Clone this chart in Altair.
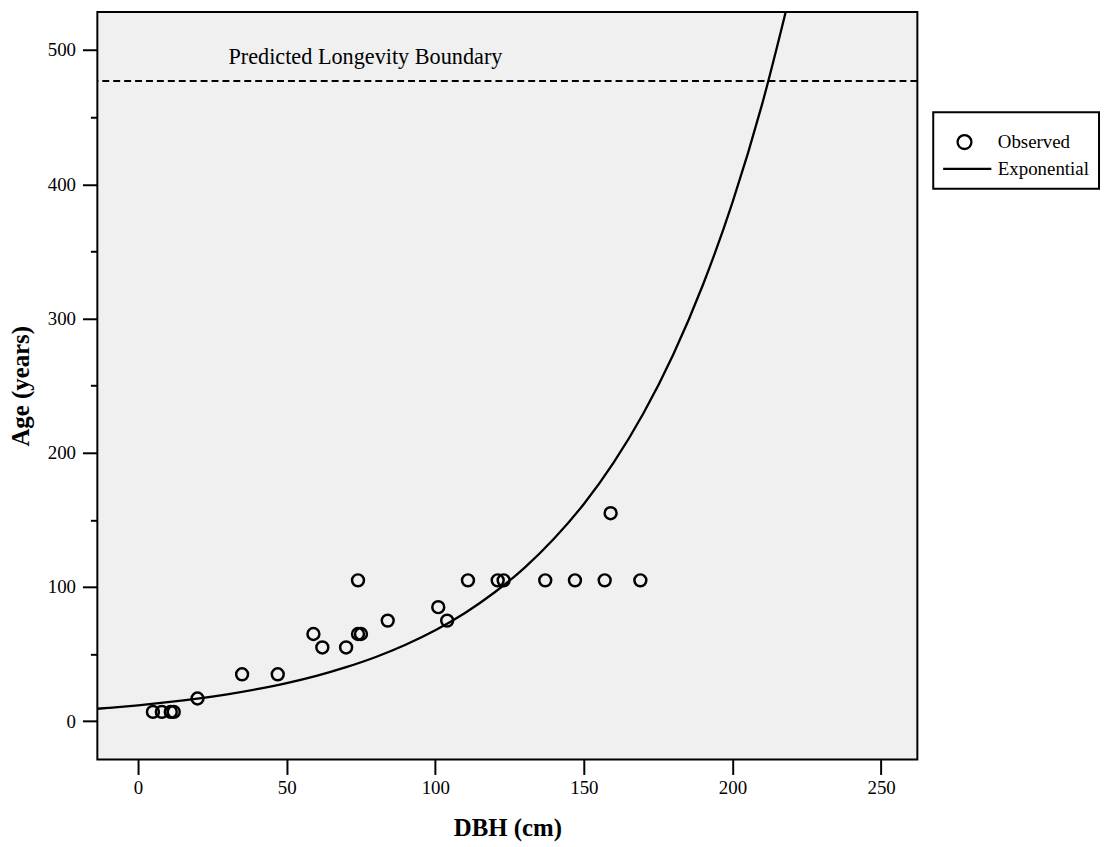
import altair as alt
import pandas as pd

FONT = "Liberation Serif"

# Observed trees
dbh = [5, 8, 11, 12, 20, 35, 47, 59, 62, 70, 74, 75, 74, 84, 101, 104, 111, 121, 123, 137, 147, 157, 169, 159]
age = [7, 7, 7, 7, 17, 35, 35, 65, 55, 55, 65, 65, 105, 75, 85, 75, 105, 105, 105, 105, 105, 105, 105, 155]

# Exponential fit curve
curve_x = [-14, -10, 0, 10, 20, 30, 40, 50, 60, 70, 80, 90, 100, 110, 120, 130, 140, 150, 160, 170, 180, 190, 200, 210, 220]
curve_y = [9.3, 10.0, 11.9, 14.2, 16.9, 20.1, 23.9, 28.4, 33.8, 40.3, 47.9, 57.0, 67.8, 80.7, 96.1, 114.3, 136.1,
           161.9, 192.7, 229.3, 272.9, 324.8, 386.5, 459.9, 547.3]

boundary_age = [477]
annotation_text = ["Predicted Longevity Boundary"]
annotation_x = [30.4]
annotation_y = [489.4]

legend_labels = ["Observed", "Exponential"]
x_ticks = [0, 50, 100, 150, 200, 250]
y_ticks = [0, 50, 100, 150, 200, 250, 300, 350, 400, 450, 500]

obs = pd.DataFrame({"DBH": dbh, "Age": age, "Series": ["Observed"] * len(dbh)})
fit = pd.DataFrame({"DBH": curve_x, "Age": curve_y})
rule_df = pd.DataFrame({"Age": boundary_age})
ann_df = pd.DataFrame({"DBH": annotation_x, "Age": annotation_y, "label": annotation_text})

xscale = alt.Scale(domain=[-13.7, 262.2], nice=False, zero=False)
yscale = alt.Scale(domain=[-28.5, 528.3], nice=False, zero=False)

xaxis = alt.Axis(
    title="DBH (cm)", values=x_ticks, domain=False, grid=False,
    tickSize=15, tickWidth=2, tickColor="black",
    labelFont=FONT, labelFontSize=19, labelColor="black", labelPadding=4,
    labelOverlap=False, labelFlush=False,
    titleFont=FONT, titleFontSize=25, titleFontWeight="bold", titleColor="black", titlePadding=18,
)
yaxis = alt.Axis(
    title="Age (years)", values=y_ticks, domain=False, grid=False,
    labelExpr="datum.value % 100 === 0 ? datum.label : ''",
    tickSize={"condition": {"test": "datum.value % 100 === 0", "value": 15}, "value": 7},
    tickWidth=2, tickColor="black",
    labelFont=FONT, labelFontSize=19, labelColor="black", labelPadding=7,
    labelOverlap=False, labelFlush=False,
    titleFont=FONT, titleFontSize=25, titleFontWeight="bold", titleColor="black", titlePadding=14,
)

X = alt.X("DBH:Q", scale=xscale, axis=xaxis)
Y = alt.Y("Age:Q", scale=yscale, axis=yaxis)

rule = alt.Chart(rule_df).mark_rule(color="black", strokeWidth=2, strokeDash=[7, 4]).encode(y=Y)

line = alt.Chart(fit).mark_line(color="black", strokeWidth=2.3, interpolate="monotone", clip=True).encode(x=X, y=Y)

points = alt.Chart(obs).mark_point(filled=False, color="black", strokeWidth=2.5, size=144, opacity=1).encode(
    x=X, y=Y,
    shape=alt.Shape(
        "Series:N",
        scale=alt.Scale(domain=legend_labels, range=["circle", "M-3.86,0H3.86"]),
        legend=alt.Legend(
            title=" ", titleFontSize=10, titlePadding=0,
            orient="none", legendX=842, legendY=101,
            strokeColor="black", padding=10, clipHeight=20, rowPadding=7,
            symbolSize=196, symbolStrokeWidth=2.3, symbolStrokeColor="black",
            symbolFillColor="transparent", symbolOffset=12, labelOffset=24,
            labelFont=FONT, labelFontSize=19, labelColor="black",
        ),
    ),
)

text = alt.Chart(ann_df).mark_text(align="left", baseline="alphabetic", font=FONT, fontSize=22.4, color="black").encode(
    x=X, y=Y, text="label:N"
)

chart = (
    alt.layer(rule, line, points, text)
    .properties(
        width=826, height=753,
        autosize=alt.AutoSizeParams(type="none"),
        padding={"left": 90, "top": 1, "right": 187, "bottom": 80},
        background="white",
    )
    .configure(font=FONT)
    .configure_view(fill="#F0F0F0", stroke="black", strokeWidth=2)
    .configure_legend(strokeWidth=2)
)

chart.save("out.html", embed_options={"renderer": "svg", "actions": False})
